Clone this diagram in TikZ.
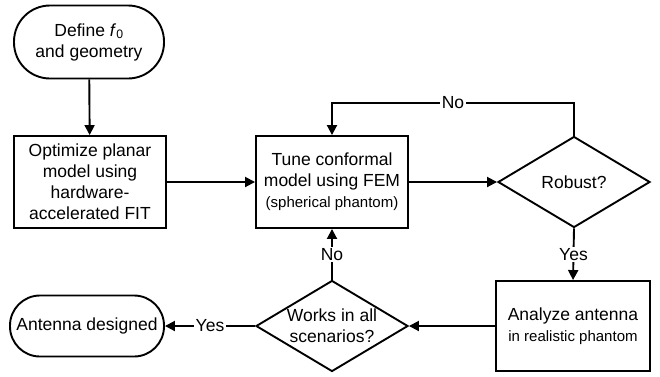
\documentclass[tikz,border=0pt]{standalone}
\usepackage{fontspec}
\setmainfont{Liberation Sans}
\usetikzlibrary{arrows.meta}
\usetikzlibrary{shapes.geometric}

\tikzset{
  block/.style={draw, line width=1.9pt, minimum width=152pt, minimum height=92pt,
    align=center, inner sep=2pt, font=\fontsize{17.5}{21}\selectfont},
  term/.style={block, rounded corners=#1},
  decision/.style={draw, diamond, line width=1.9pt, minimum width=152pt,
    minimum height=91pt, inner sep=0pt},
  dtext/.style={align=center, font=\fontsize{17.5}{21}\selectfont},
  arr/.style={line width=1.9pt, -{Triangle[length=10pt,width=10pt]}},
  lbl/.style={fill=white, inner sep=1.5pt, font=\fontsize{17.5}{21}\selectfont}
}

\begin{document}
\begin{tikzpicture}[x=1pt,y=-1pt]
      \useasboundingbox (0,0) rectangle (660,376);
      % nodes
      \node[term=36pt, minimum width=150pt, minimum height=73pt] (start) at (89,42)
        {Define \textit{f}\textsubscript{0}\\and geometry};
      \node[block] (opt) at (90,182) {Optimize planar\\model using\\hardware-\\accelerated FIT};
      \node[block] (tune) at (332,182)
        {Tune conformal\\model using FEM\\{\fontsize{15}{19}\selectfont(spherical phantom)}};
      \node[decision, label={[dtext]center:Robust?}] (robust) at (574,182) {};
      \node[block, minimum width=154pt, minimum height=90pt] (analyze) at (573,326)
        {Analyze antenna\\{\fontsize{15}{19}\selectfont in realistic phantom}};
      \node[decision, label={[dtext]center:Works in all\\scenarios?}] (works) at (332,326) {};
      \node[term=30pt, minimum width=154pt, minimum height=61pt] (done) at (87,326)
        {Antenna designed};
      \coordinate (noturn) at (574,103);
      % connectors
      \draw[arr] (start) -- (opt);
      \draw[arr] (opt) -- (tune);
      \draw[arr] (tune) -- (robust);
      \draw[arr] (robust.north) -- (noturn) -| node[lbl, pos=0.25] {No} (tune.north);
      \draw[arr] (robust.south) -- node[lbl] {Yes} (analyze.north);
      \draw[arr] (analyze.west) -- (works.east);
      \draw[arr] (works.north) -- node[lbl] {No} (tune.south);
      \draw[arr] (works.west) -- node[lbl] {Yes} (done.east);
\end{tikzpicture}
\end{document}
